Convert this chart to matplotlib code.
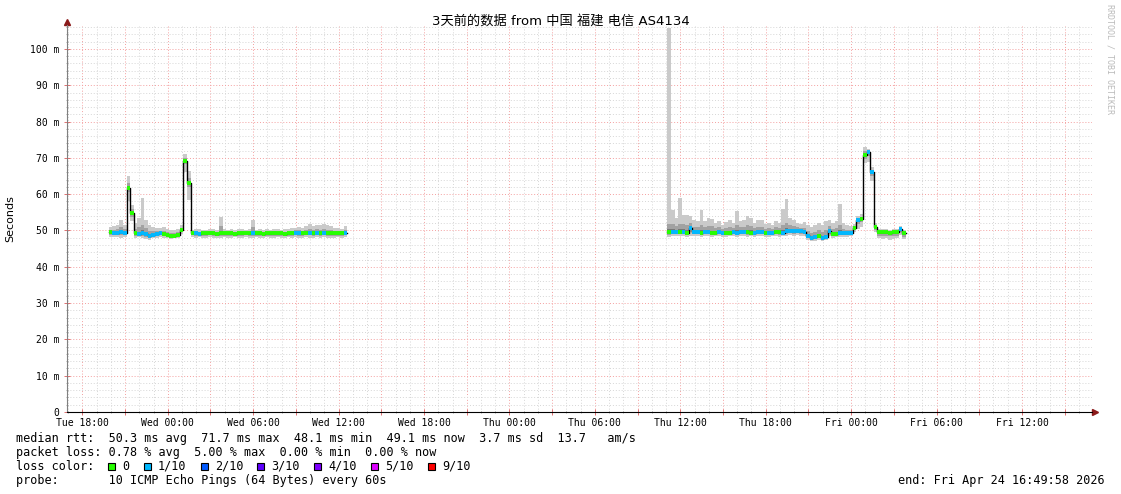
import numpy as np
import matplotlib
matplotlib.use('Agg')
import matplotlib.pyplot as plt
from matplotlib.ticker import FixedLocator, FuncFormatter
from matplotlib.patches import Rectangle

# --- data (hours since Tue 00:00, 15 min samples) ---
step = 0.25
start1 = 19.85
start2 = 59.1

med1 = [49.5, 49.3, 49.4, 49.5, 49.4, 61.7, 54.8, 49.2, 49.0, 49.3,
        49.0, 48.6, 48.8, 49.0, 49.2, 49.0, 48.8, 48.5, 48.4, 48.8,
        50.0, 69.2, 63.0, 49.2, 49.2, 49.1, 49.2, 49.2, 49.3, 49.2,
        49.1, 49.2, 49.2, 49.3, 49.2, 49.1, 49.2, 49.2, 49.3, 49.2,
        49.3, 49.2, 49.2, 49.1, 49.2, 49.2, 49.3, 49.2, 49.2, 49.1,
        49.2, 49.2, 49.4, 49.3, 49.2, 49.3, 49.4, 49.2, 49.3, 49.2,
        49.4, 49.3, 49.2, 49.3, 49.2, 49.2, 49.3]
lo1 = [48.3, 48.2, 48.3, 48.0, 48.2, 58.0, 52.5, 48.0, 48.1, 47.8,
       47.6, 47.5, 47.8, 47.9, 48.2, 48.0, 47.8, 47.6, 47.8, 48.0,
       49.0, 66.0, 58.5, 48.3, 48.0, 48.2, 48.0, 47.9, 48.1, 48.0,
       47.8, 48.0, 48.1, 48.0, 47.9, 48.1, 48.0, 48.0, 48.1, 47.9,
       48.0, 48.1, 47.9, 48.0, 48.1, 47.8, 48.0, 48.1, 48.0, 47.9,
       48.1, 48.0, 48.1, 48.0, 48.0, 48.1, 48.0, 47.9, 48.1, 48.0,
       48.1, 48.0, 47.9, 48.0, 48.1, 48.0, 48.2]
hi1 = [51.0, 51.2, 51.4, 53.0, 51.5, 65.0, 57.0, 52.0, 53.5, 59.0,
       53.0, 51.5, 51.0, 50.8, 50.6, 51.0, 50.5, 50.0, 50.2, 50.5,
       51.5, 71.0, 66.5, 50.2, 50.4, 50.3, 50.2, 50.1, 50.4, 50.3,
       50.2, 53.8, 50.3, 50.2, 50.4, 50.1, 50.3, 50.5, 50.2, 50.3,
       52.9, 50.2, 50.4, 50.1, 50.3, 50.2, 50.5, 50.3, 50.2, 50.4,
       50.3, 50.6, 50.8, 51.0, 50.7, 51.3, 51.8, 51.2, 51.6, 51.5,
       51.8, 51.4, 51.2, 50.8, 50.6, 50.5, 51.2]
loss1 = [0, 1, 1, 1, 1, 0, 0, 0, 1, 1,
         1, 1, 1, 1, 1, 0, 0, 0, 0, 0,
         0, 0, 0, 0, 1, 1, 0, 0, 0, 0,
         0, 0, 0, 0, 0, 0, 0, 0, 0, 0,
         1, 0, 0, 0, 0, 0, 0, 0, 0, 0,
         0, 0, 1, 1, 0, 0, 1, 0, 1, 0,
         1, 0, 0, 0, 0, 0, 1]

med2 = [49.5, 49.6, 49.6, 49.5, 49.6, 49.4, 50.7, 49.5, 49.5, 49.4,
        49.5, 49.5, 49.4, 49.4, 49.5, 49.4, 49.3, 49.4, 49.5, 49.4,
        49.6, 49.5, 49.5, 49.4, 49.4, 49.5, 49.5, 49.3, 49.4, 49.4,
        49.5, 49.5, 49.4, 49.8, 49.8, 49.8, 49.9, 49.8, 49.6, 48.6,
        47.8, 48.2, 48.6, 48.0, 48.2, 49.9, 49.0, 49.0, 49.2, 49.2,
        49.2, 49.3, 50.6, 52.9, 53.2, 70.8, 71.6, 66.0, 51.0, 49.5,
        49.5, 49.5, 49.4, 49.5, 49.5, 50.4, 49.2]
lo2 = [48.3, 48.5, 48.6, 48.4, 48.5, 48.3, 48.6, 48.4, 48.5, 48.3,
       48.4, 48.5, 48.3, 48.4, 48.5, 48.3, 48.2, 48.4, 48.5, 48.3,
       48.5, 48.4, 48.3, 48.4, 48.3, 48.4, 48.5, 48.2, 48.3, 48.4,
       48.4, 48.3, 48.4, 48.6, 48.7, 48.6, 48.7, 48.6, 48.4, 47.5,
       47.0, 47.2, 47.5, 47.1, 47.3, 48.5, 48.0, 48.1, 48.2, 48.3,
       48.2, 48.4, 49.5, 50.5, 51.0, 68.5, 69.0, 63.5, 49.5, 47.8,
       47.6, 47.8, 47.5, 47.7, 47.8, 48.8, 47.6]
hi2 = [105.8, 55.6, 53.5, 59.0, 54.3, 54.3, 54.0, 53.0, 52.5, 55.6,
       52.5, 53.5, 53.2, 52.0, 52.5, 51.5, 52.2, 52.8, 52.0, 55.4,
       52.5, 53.0, 54.0, 53.5, 52.0, 53.0, 52.8, 51.8, 52.0, 51.6,
       52.5, 52.0, 56.0, 58.7, 53.5, 52.8, 52.0, 51.8, 52.3, 51.5,
       51.0, 51.5, 52.0, 51.5, 52.5, 53.0, 52.0, 52.5, 57.3, 52.0,
       51.5, 51.2, 51.8, 54.0, 54.5, 73.0, 72.5, 67.5, 52.0, 50.5,
       50.3, 50.4, 50.2, 50.5, 50.3, 51.2, 50.0]
loss2 = [0, 1, 1, 0, 1, 0, 1, 1, 1, 0,
         1, 1, 0, 0, 1, 1, 0, 0, 1, 1,
         1, 1, 0, 0, 1, 1, 1, 0, 1, 1,
         0, 0, 1, 1, 1, 1, 1, 1, 1, 1,
         1, 1, 0, 1, 1, 1, 0, 0, 1, 1,
         1, 1, 0, 1, 0, 0, 1, 1, 0, 0,
         0, 0, 0, 0, 0, 1, 0]

loss_labels = ['0', '1/10', '2/10', '3/10', '4/10', '5/10', '9/10']
loss_colors = ['#26ff00', '#00b8ff', '#0059ff', '#5e00ff', '#7e00ff', '#dd00ff', '#ff0000']

title = '3天前的数据 from 中国 福建 电信 AS4134'
stats = ['median rtt:  50.3 ms avg  71.7 ms max  48.1 ms min  49.1 ms now  3.7 ms sd  13.7   am/s',
         'packet loss: 0.78 % avg  5.00 % max  0.00 % min  0.00 % now']
probe = 'probe:       10 ICMP Echo Pings (64 Bytes) every 60s'
end_txt = 'end: Fri Apr 24 16:49:58 2026'
days = ['Tue', 'Wed', 'Thu', 'Fri']

W, H = 1121, 494
fig = plt.figure(figsize=(W / 100, H / 100), dpi=100)
ax = fig.add_axes([67 / W, (H - 412) / H, (1092 - 67) / W, (412 - 25) / H])

x0, x1 = 16.92, 88.92
ax.set_xlim(x0, x1)
ax.set_ylim(0, 106.6)


def draw_seg(start, med, lo, hi, loss):
    med = np.array(med)
    lo = np.array(lo)
    hi = np.array(hi)
    t = start + step * np.arange(len(med))
    ax.bar(t, hi - lo, bottom=lo, width=step, align='edge', color='#cacaca', lw=0, zorder=2)
    a = med - np.minimum((med - lo) * 0.55, 1.0)
    b = med + np.minimum((hi - med) * 0.45, 2.2)
    ax.bar(t, b - a, bottom=a, width=step, align='edge', color='#a2a2a2', lw=0, zorder=2)
    a = med - np.minimum((med - lo) * 0.25, 0.5)
    b = med + np.minimum((hi - med) * 0.15, 0.8)
    ax.bar(t, b - a, bottom=a, width=step, align='edge', color='#777777', lw=0, zorder=2)
    ax.step(np.append(t, t[-1] + step), np.append(med, med[-1]), where='post',
            color='black', lw=1, zorder=3)
    ax.hlines(med, t, t + step, colors=[loss_colors[i] for i in loss], lw=2.8, zorder=4)


draw_seg(start1, med1, lo1, hi1, loss1)
draw_seg(start2, med2, lo2, hi2, loss2)

# grid
ax.xaxis.set_major_locator(FixedLocator(np.arange(18, 89, 3)))
ax.xaxis.set_minor_locator(FixedLocator(np.arange(17, 89, 1)))
ax.xaxis.set_major_formatter(FuncFormatter(
    lambda v, p: f'{days[int(v) // 24]} {int(v) % 24:02d}:00' if int(round(v)) % 6 == 0 else ''))
ax.yaxis.set_major_locator(FixedLocator(np.arange(0, 101, 10)))
ax.yaxis.set_minor_locator(FixedLocator(np.arange(0, 107, 2)))
ax.yaxis.set_major_formatter(FuncFormatter(lambda v, p: '0' if v == 0 else f'{int(v)} m'))
ax.grid(which='minor', color='#d6d6d6', linestyle=(0, (1, 2)), lw=0.7)
ax.grid(which='major', color='#f4a0a0', linestyle=(0, (1, 2)), lw=0.7)
ax.set_axisbelow(True)

ax.tick_params(axis='x', which='major', pad=2)
ax.tick_params(which='major', direction='inout', length=4, width=0.7, color='#e07070',
               labelsize=7)
ax.tick_params(which='minor', direction='inout', length=2, width=0.6, color='#999999')
for lab in ax.get_xticklabels() + ax.get_yticklabels():
    lab.set_family('DejaVu Sans Mono')

for s in ['top', 'right']:
    ax.spines[s].set_visible(False)
ax.spines['left'].set_color('#808080')
ax.spines['bottom'].set_color('black')
ax.plot([0], [1.008], marker='^', ms=4, color='#8b1a1a', transform=ax.transAxes, clip_on=False)
ax.plot([1.003], [0], marker='>', ms=4, color='#8b1a1a', transform=ax.transAxes, clip_on=False)

ax.set_ylabel('Seconds', fontsize=8)
ax.yaxis.set_label_coords(-52 / (1092 - 67), 0.5)

fig.text(0.5, 1 - 21 / H, title, ha='center', va='center', fontsize=9.5,
         family=['DejaVu Sans', 'Noto Sans CJK SC'])
fig.text(1110 / W, 1 - 4 / H, 'RRDTOOL / TOBI OETIKER', rotation=270, ha='center', va='top',
         fontsize=6, color='#bbbbbb', family='DejaVu Sans Mono')

mono = dict(family='DejaVu Sans Mono', fontsize=8.5, va='center')
cw = 7.1
fig.text(16 / W, 1 - 438 / H, stats[0], **mono)
fig.text(16 / W, 1 - 452 / H, stats[1], **mono)
fig.text(16 / W, 1 - 466 / H, 'loss color:', **mono)
col = 13
for lab, c in zip(loss_labels, loss_colors):
    xs = 16 + col * cw
    fig.patches.append(Rectangle((xs / W, 1 - 470 / H), 7 / W, 7 / H, transform=fig.transFigure,
                                 facecolor=c, edgecolor='black', lw=0.8))
    fig.text((xs + 2 * cw) / W, 1 - 466 / H, lab, **mono)
    col += 4 + len(lab)
fig.text(16 / W, 1 - 480 / H, probe, **mono)
fig.text(1105 / W, 1 - 480 / H, end_txt, ha='right', **mono)

fig.savefig('out.png', dpi=100)
